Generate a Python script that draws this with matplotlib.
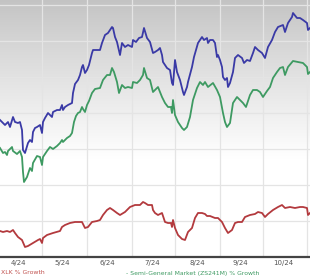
import numpy as np
import matplotlib
matplotlib.use("Agg")
import matplotlib.pyplot as plt
from matplotlib.colors import LinearSegmentedColormap

# ---- data (chart level) ----
blue_x = [0,5,8,10,13,15,18,20,22,23,25,28,30,32,33,35,37,40,42,43,45,48,50,52,53,57,60,62,63,65,68,72,73,75,78,80,82,83,85,87,89,92,93,100,102,105,108,112,113,115,117,120,122,125,128,132,133,136,139,142,144,147,150,153,155,158,160,162,163,167,170,172,173,175,177,180,182,183,184,187,188,192,194,198,202,204,207,208,210,213,215,217,218,220,222,223,225,227,228,230,233,235,238,242,244,247,250,253,255,258,262,265,268,272,275,278,283,285,288,292,293,297,300,303,307,308,310]
blue_y = [137,132,135,130,140,135,134,135,127,107,104,114,117,115,125,129,130,132,124,135,139,144,142,140,145,147,147,152,147,150,152,154,164,173,177,182,190,192,184,187,192,204,207,207,214,222,224,230,229,220,215,202,214,210,212,210,217,215,219,220,229,219,215,204,205,207,209,202,195,189,187,174,172,197,185,177,169,165,162,170,175,190,200,214,220,217,219,214,217,217,214,200,202,197,190,180,177,179,170,174,185,199,202,199,194,197,196,204,210,207,204,199,210,217,225,230,232,225,234,240,244,239,239,237,234,227,229]

green_x = [0,3,5,7,8,12,13,17,20,22,23,24,27,30,32,33,37,40,42,43,47,50,53,57,60,62,63,67,70,72,74,76,78,80,82,83,85,87,89,92,95,100,103,107,110,112,114,117,119,122,125,128,132,133,137,140,143,144,147,150,153,155,158,162,165,168,171,172,173,175,178,182,184,187,190,193,197,200,203,205,208,213,217,220,223,225,227,230,233,237,240,243,246,250,253,257,260,263,267,270,273,277,280,283,285,288,293,298,303,307,308,310]
green_y = [109,104,105,102,106,110,106,103,106,100,85,75,80,89,86,94,101,100,92,100,106,110,108,111,114,117,115,119,121,124,135,141,144,145,150,148,145,152,156,164,168,169,177,182,182,189,185,175,164,172,169,170,169,175,174,177,182,189,179,177,165,167,170,160,154,150,150,144,157,142,135,129,127,130,140,157,169,175,172,175,170,174,167,160,144,135,130,134,154,160,157,154,150,162,167,167,165,160,166,170,179,185,189,190,182,190,196,195,194,190,183,185]

red_x = [0,3,7,10,13,15,18,22,25,28,33,38,40,42,43,47,53,60,62,65,70,75,82,85,88,92,97,100,103,107,110,113,117,120,125,130,135,140,143,145,148,152,153,155,158,162,165,168,171,172,173,175,178,182,185,188,192,195,198,202,205,207,210,215,218,222,225,228,232,235,238,242,245,250,255,258,262,265,268,273,278,282,285,290,295,300,303,307,308,310]
red_y = [26,25,26,25,27,24,20,17,10,11,14,17,18,14,19,22,24,26,30,32,34,35,35,29,30,35,36,37,42,47,49,47,44,42,45,50,52,52,55,54,52,52,47,44,42,44,35,34,34,30,37,29,22,18,17,25,29,39,44,44,43,41,41,39,39,35,29,24,27,34,35,35,40,42,43,45,44,40,43,47,50,52,49,50,49,50,50,49,42,44]

month_labels = ["4/24", "5/24", "6/24", "7/24", "8/24", "9/24", "10/24"]
month_label_pos = [18, 62, 107, 152, 197, 240, 283]
grid_x = [42, 87, 132, 175, 220, 263, 307]
grid_y = [36, 72, 108, 144, 180, 216, 252]

legend_red = "XLK % Growth"
legend_green = "Semi-General Market (ZS241M) % Growth"

W, H = 310, 280
fig = plt.figure(figsize=(W/100, H/100), dpi=100)
fig.patch.set_facecolor("white")
ax = fig.add_axes([0, 23/H, 1, 257/H])

# gradient background: gray at top fading to white
n = 256
t = np.linspace(0, 1, n)  # 0 = top row
grad = 1 - np.clip(t / 0.62, 0, 1) ** 0.9
cmap = LinearSegmentedColormap.from_list("bg", ["#ffffff", "#c3c3c3"])
ax.imshow(grad[:, None], aspect="auto", cmap=cmap, vmin=0, vmax=1,
          origin="upper", extent=[0, 1, 0, 1], transform=ax.transAxes, zorder=0)
ax.set_xlim(0, 310)
ax.set_ylim(0, 257)

for gx in grid_x:
    ax.axvline(gx, color="#e4e4e4", lw=0.9, zorder=1)
for gy in grid_y:
    ax.axhline(gy, color="#e4e4e4", lw=0.9, zorder=1)

ax.plot(red_x, red_y, color="#b33a3e", lw=1.3, zorder=3, solid_joinstyle="round")
ax.plot(green_x, green_y, color="#3e9a62", lw=1.3, zorder=3, solid_joinstyle="round")
ax.plot(blue_x, blue_y, color="#3a3aa6", lw=1.3, zorder=4, solid_joinstyle="round")

for s in ["top", "left", "right"]:
    ax.spines[s].set_visible(False)
ax.spines["bottom"].set_color("#444444")
ax.spines["bottom"].set_linewidth(1.6)
ax.set_yticks([])
ax.set_xticks(month_label_pos)
ax.set_xticklabels(month_labels, fontsize=5, color="#555555")
ax.tick_params(axis="x", length=0, pad=2.5)

fig.text(1/W, 1 - 273/H, legend_red, color="#c0504d", fontsize=4.4,
         ha="left", va="center")
fig.text(126/W, 1 - 273/H, "- " + legend_green, color="#3e9a62", fontsize=4.4,
         ha="left", va="center")

fig.savefig("out.png", dpi=100)
